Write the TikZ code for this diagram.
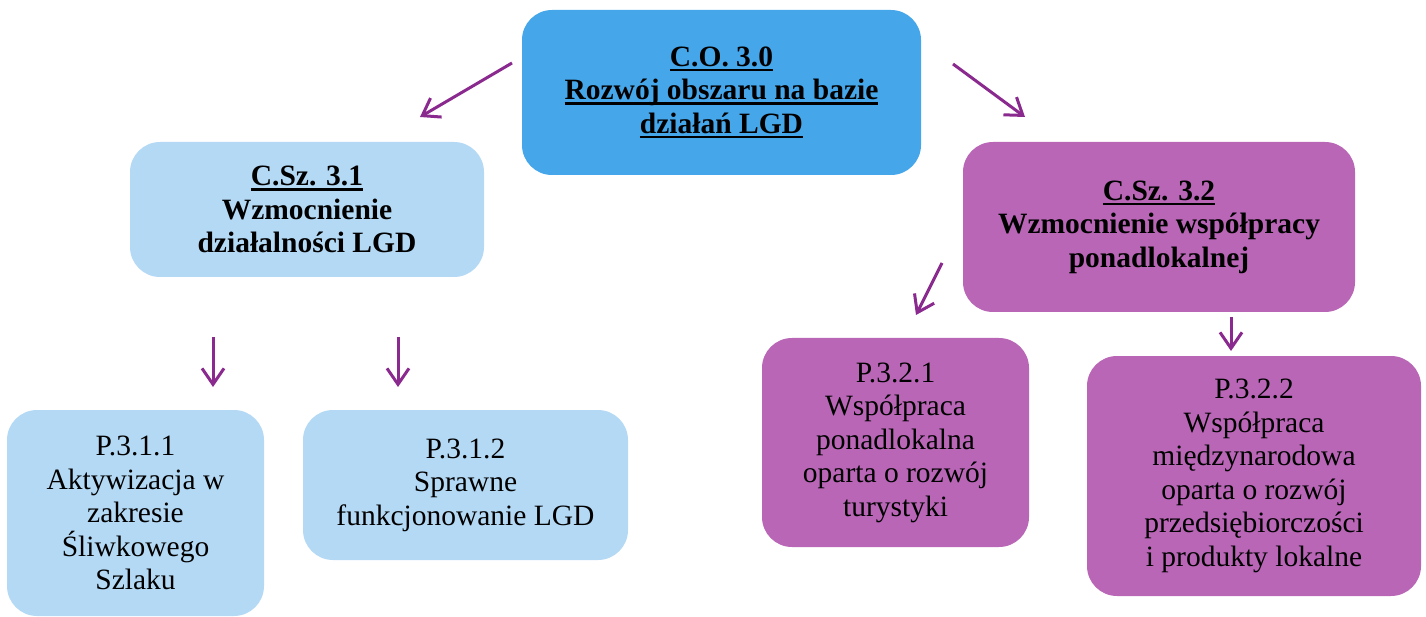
\documentclass[tikz,border=0pt]{standalone}
\usepackage{fontspec}
\setmainfont{Liberation Serif}
\usetikzlibrary{arrows.meta,positioning}
\definecolor{topblue}{HTML}{45A6EA}
\definecolor{paleblue}{HTML}{B4D9F5}
\definecolor{plum}{HTML}{B966B7}
\definecolor{arrowplum}{HTML}{8B2A8E}
\newcommand{\ulin}[1]{\setbox0\hbox{#1}\rlap{\rule[-5pt]{\wd0}{2.6pt}}\box0}
\tikzset{goal node/.style={rectangle,rounded corners=30pt,draw=none,align=center,inner sep=0pt,
             font=\fontsize{29.5}{33.5}\selectfont},
         main goal/.style={goal node,fill=topblue,font=\fontsize{29.5}{33.5}\selectfont\bfseries},
         sub goal/.style={goal node,font=\fontsize{29.5}{33.5}\selectfont\bfseries},
         box size/.style 2 args={minimum width=#1,minimum height=#2},
         link/.style={draw=arrowplum,line width=3pt,-{Straight Barb[length=16pt,width=22pt]}},
}

\begin{document}
\begin{tikzpicture}[x=1pt,y=-1pt]

\useasboundingbox (0,0) rectangle (1426,617);

\node[main goal,box size={399pt}{165pt}] (c30) at (721.5,92.5)
    {\ulin{C.O. 3.0}\\ \ulin{Rozwój obszaru na bazie}\\ \ulin{działań LGD}};

\node[sub goal,fill=paleblue,box size={354pt}{135pt}] (c31) at (307,209.5)
    {\ulin{C.Sz. 3.1}\\ Wzmocnienie\\ działalności LGD};
\node[sub goal,fill=plum,box size={392pt}{170pt}] (c32) at (1159,227)
    {\ulin{C.Sz. 3.2}\\ Wzmocnienie współpracy\\ ponadlokalnej};

\node[goal node,fill=paleblue,box size={257pt}{206pt}] (p311) at (135.5,513)
    {P.3.1.1\\ Aktywizacja w\\ zakresie\\ Śliwkowego\\ Szlaku};
\node[goal node,fill=paleblue,box size={325pt}{150pt}] (p312) at (465.5,485)
    {P.3.1.2\\ Sprawne\\ funkcjonowanie LGD};
\node[goal node,fill=plum,box size={267pt}{209pt}] (p321) at (895.5,442.5)
    {P.3.2.1\\ Współpraca\\ ponadlokalna\\ oparta o rozwój\\ turystyki};
\node[goal node,fill=plum,box size={334pt}{240pt}] (p322) at (1254,476)
    {P.3.2.2\\ Współpraca\\ międzynarodowa\\ oparta o rozwój\\ przedsiębiorczości\\ i produkty lokalne};

% free arrows between the boxes
\coordinate (a1s) at (512,63);   \coordinate (a1e) at (420,117);
\coordinate (a2s) at (953,64);   \coordinate (a2e) at (1025,117);
\coordinate (a3s) at (213,337);  \coordinate (a3e) at (213,387);
\coordinate (a4s) at (398,337);  \coordinate (a4e) at (398,387);
\coordinate (a5s) at (942,263);  \coordinate (a5e) at (916,315);
\coordinate (a6s) at (1231,317); \coordinate (a6e) at (1231,351);

\draw[link] (a1s) -- (a1e);
\draw[link] (a2s) -- (a2e);
\draw[link] (a3s) -- (a3e);
\draw[link] (a4s) -- (a4e);
\draw[link] (a5s) -- (a5e);
\draw[link] (a6s) -- (a6e);
\end{tikzpicture}
\end{document}
